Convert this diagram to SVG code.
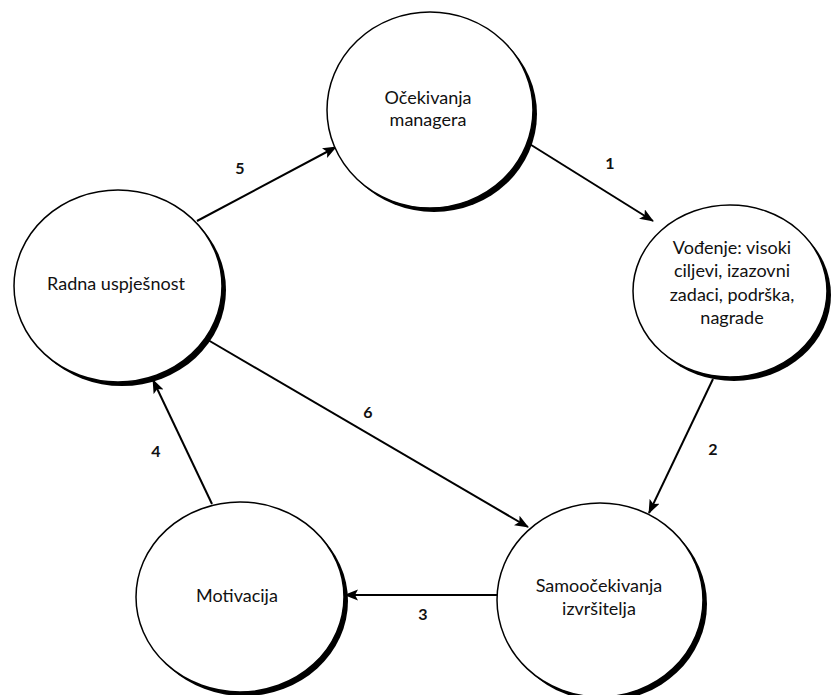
<svg xmlns="http://www.w3.org/2000/svg" width="831" height="695" viewBox="0 0 831 695">
<defs>
<marker id="ah" markerUnits="userSpaceOnUse" markerWidth="14" markerHeight="12" refX="13" refY="5.5" orient="auto">
<path d="M0,0 L14,5.5 L0,11 L3,5.5 z" fill="#000"/>
</marker>
</defs>
<style>
.shadow{fill:#000}
.node{fill:#fff;stroke:#000;stroke-width:1.5}
.lbl{font-family:Lato,"Open Sans","Liberation Sans",sans-serif;font-size:18px;fill:#111;text-anchor:middle;dominant-baseline:central}
.num{font-family:Lato,"Open Sans","Liberation Sans",sans-serif;font-size:16px;font-weight:bold;fill:#111;text-anchor:middle;dominant-baseline:central}
.edge{stroke:#000;stroke-width:2;fill:none;marker-end:url(#ah)}
</style>
<rect width="831" height="695" fill="#fff"/>
<g id="connectors">
<line class="edge" x1="197" y1="221" x2="336" y2="147"/>
<line class="edge" x1="528" y1="143" x2="653" y2="221"/>
<line class="edge" x1="713" y1="379" x2="649" y2="513"/>
<line class="edge" x1="497" y1="595" x2="345" y2="595"/>
<line class="edge" x1="212" y1="504" x2="153" y2="380"/>
<line class="edge" x1="208" y1="340" x2="528" y2="527"/>
<text class="num" x="240" y="167">5</text>
<text class="num" x="610" y="162">1</text>
<text class="num" x="713" y="448">2</text>
<text class="num" x="423" y="613">3</text>
<text class="num" x="156" y="450">4</text>
<text class="num" x="368" y="411">6</text>
</g>
<g id="ocekivanja">
<ellipse class="shadow" cx="434" cy="114" rx="103" ry="98"/>
<ellipse class="node" cx="430" cy="110" rx="103" ry="98"/>
<text class="lbl" x="428" y="97">Očekivanja</text>
<text class="lbl" x="428" y="119">managera</text>
</g>
<g id="vodenje">
<ellipse class="shadow" cx="734" cy="295" rx="97" ry="86"/>
<ellipse class="node" cx="730" cy="291" rx="97" ry="86"/>
<text class="lbl" x="732" y="247">Vođenje: visoki</text>
<text class="lbl" x="732" y="270">ciljevi, izazovni</text>
<text class="lbl" x="732" y="294">zadaci, podrška,</text>
<text class="lbl" x="732" y="317">nagrade</text>
</g>
<g id="radna">
<ellipse class="shadow" cx="122" cy="290" rx="104" ry="96"/>
<ellipse class="node" cx="118" cy="286" rx="104" ry="96"/>
<text class="lbl" x="116" y="283">Radna uspješnost</text>
</g>
<g id="motivacija">
<ellipse class="shadow" cx="244" cy="601" rx="104" ry="95"/>
<ellipse class="node" cx="240" cy="597" rx="104" ry="95"/>
<text class="lbl" x="237" y="595">Motivacija</text>
</g>
<g id="samoocekivanja">
<ellipse class="shadow" cx="604" cy="604" rx="103" ry="97"/>
<ellipse class="node" cx="600" cy="600" rx="103" ry="97"/>
<text class="lbl" x="599" y="585">Samoočekivanja</text>
<text class="lbl" x="599" y="608">izvršitelja</text>
</g>
</svg>
